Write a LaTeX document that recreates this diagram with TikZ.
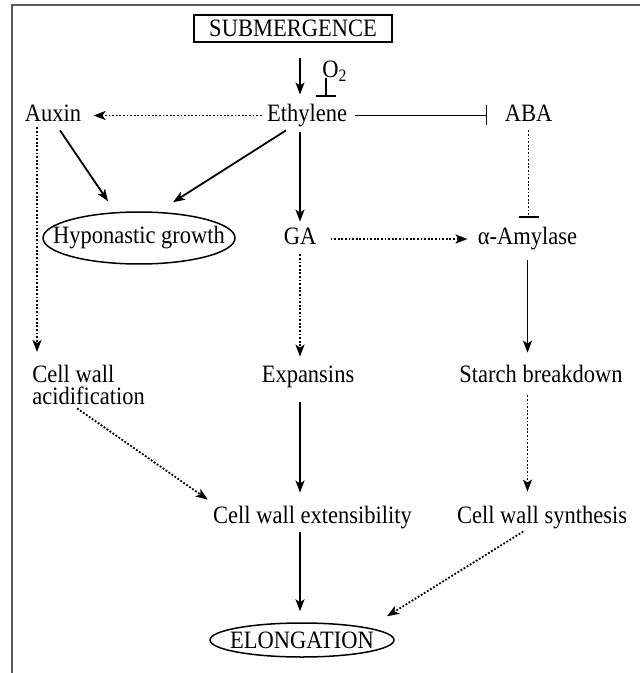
\documentclass[tikz,border=0pt]{standalone}
\usepackage{fontspec}
\setmainfont{Liberation Serif}[FakeStretch=0.9]
\usetikzlibrary{shapes}
\usetikzlibrary{arrows.meta}

\begin{document}
\begin{tikzpicture}[x=0.5pt,y=-0.5pt,font=\fontsize{12.5}{11}\selectfont,
    txt/.style={inner sep=0pt,anchor=base,text height=8.75pt,text depth=2.75pt},
    arr/.style={line width=0.9pt,-{Stealth[length=6pt,width=4.5pt,inset=1.5pt]}},
    darr/.style={arr,line width=0.9pt,dash pattern=on 0.9pt off 0.9pt},
    inh/.style={line width=0.9pt,-{Bar[width=10pt]}},
    dinh/.style={inh,line width=0.9pt,dash pattern=on 0.9pt off 0.9pt},
    oval/.style={draw,ellipse,line width=0.75pt,inner sep=0pt}]
    \useasboundingbox (0,0) rectangle (640,673);
    % frame
    \draw[line width=1pt,black!65] (11.5,673) -- (11.5,5.5) -- (640,5.5);
    % top row
    \node[draw,line width=0.8pt,minimum width=99pt,minimum height=13.5pt,inner sep=0pt] (sub) at (293,28.5) {SUBMERGENCE};
    \node[inner sep=0pt,anchor=base west,text depth=0pt] (o2) at (322,78) {O\textsubscript{2}};
    \coordinate (o2bar) at (326,97);
    \node[txt] (aux) at (53,121.5) {Auxin};
    \node[txt] (eth) at (307,121.5) {Ethylene};
    \node[txt] (aba) at (528.5,121.5) {ABA};
    % second row
    \node[oval,minimum width=96pt,minimum height=26pt,label=center:{Hyponastic growth}] (hypo) at (139,238) {};
    \node[txt] (ga) at (300,245) {GA};
    \node[txt] (amy) at (527.5,245) {α-Amylase};
    % third row
    \node[inner sep=0pt,anchor=north west,align=left] (cwa) at (32,365) {Cell wall\\acidification};
    \node[txt] (exp) at (308,382) {Expansins};
    \node[txt] (stb) at (541,382) {Starch breakdown};
    % bottom
    \node[txt] (cwe) at (312.5,523) {Cell wall extensibility};
    \node[txt] (cws) at (542,523) {Cell wall synthesis};
    \node[oval,minimum width=92pt,minimum height=17pt,label=center:{ELONGATION}] (elo) at (302,640) {};
    % connectors
    \draw[arr,shorten <=7.5pt,shorten >=4.55pt] (sub.south -| ga) -- (eth.north -| ga);
    \draw[inh] (o2.south -| o2bar) -- (o2bar);
    \draw[darr,shorten <=2.5pt,shorten >=6pt] (eth.west) -- (aux.east);
    \draw[inh,shorten <=4pt,shorten >=8.5pt] (eth.east) -- (aba.west);
    \draw[arr] ([xshift=3.5pt,yshift=-1.5pt]aux.south) -- ([xshift=-15.5pt,yshift=5pt]hypo.north);
    \draw[arr] ([xshift=-10.5pt,yshift=-1.5pt]eth.south) -- ([xshift=17pt,yshift=4.5pt]hypo.north);
    \draw[arr,shorten <=2.5pt,shorten >=2.75pt] (eth.south -| ga) -- (ga.north);
    \draw[darr,shorten <=7pt,shorten >=5pt] (ga.east) -- (amy.west);
    \draw[dinh,shorten <=1.5pt,shorten >=4.75pt] (aba.south) -- (amy.north -| aba);
    \draw[darr] ([xshift=-8pt]aux.south) -- ([xshift=2.5pt,yshift=6.5pt]cwa.north west);
    \draw[darr,shorten <=1.75pt,shorten >=3.75pt] (ga.south) -- (exp.north -| ga);
    \draw[arr,shorten <=4.75pt,shorten >=5.75pt] (amy.south) -- (stb.north -| amy);
    \draw[arr,shorten <=7.25pt,shorten >=6.25pt] (exp.south -| ga) -- (cwe.north -| ga);
    \draw[darr] ([xshift=-5.75pt,yshift=-1.5pt]cwa.south) -- ([xshift=-2.5pt,yshift=2.75pt]cwe.north west);
    \draw[darr,shorten <=3.75pt,shorten >=6.75pt] (stb.south -| amy) -- (cws.north -| amy);
    \draw[arr,shorten <=1.75pt,shorten >=5.5pt] (cwe.south -| ga) -- (elo.north -| ga);
    \draw[darr,shorten <=2.5pt] (cws.south -| amy) -- ([xshift=42.5pt,yshift=3pt]elo.north);
\end{tikzpicture}
\end{document}
